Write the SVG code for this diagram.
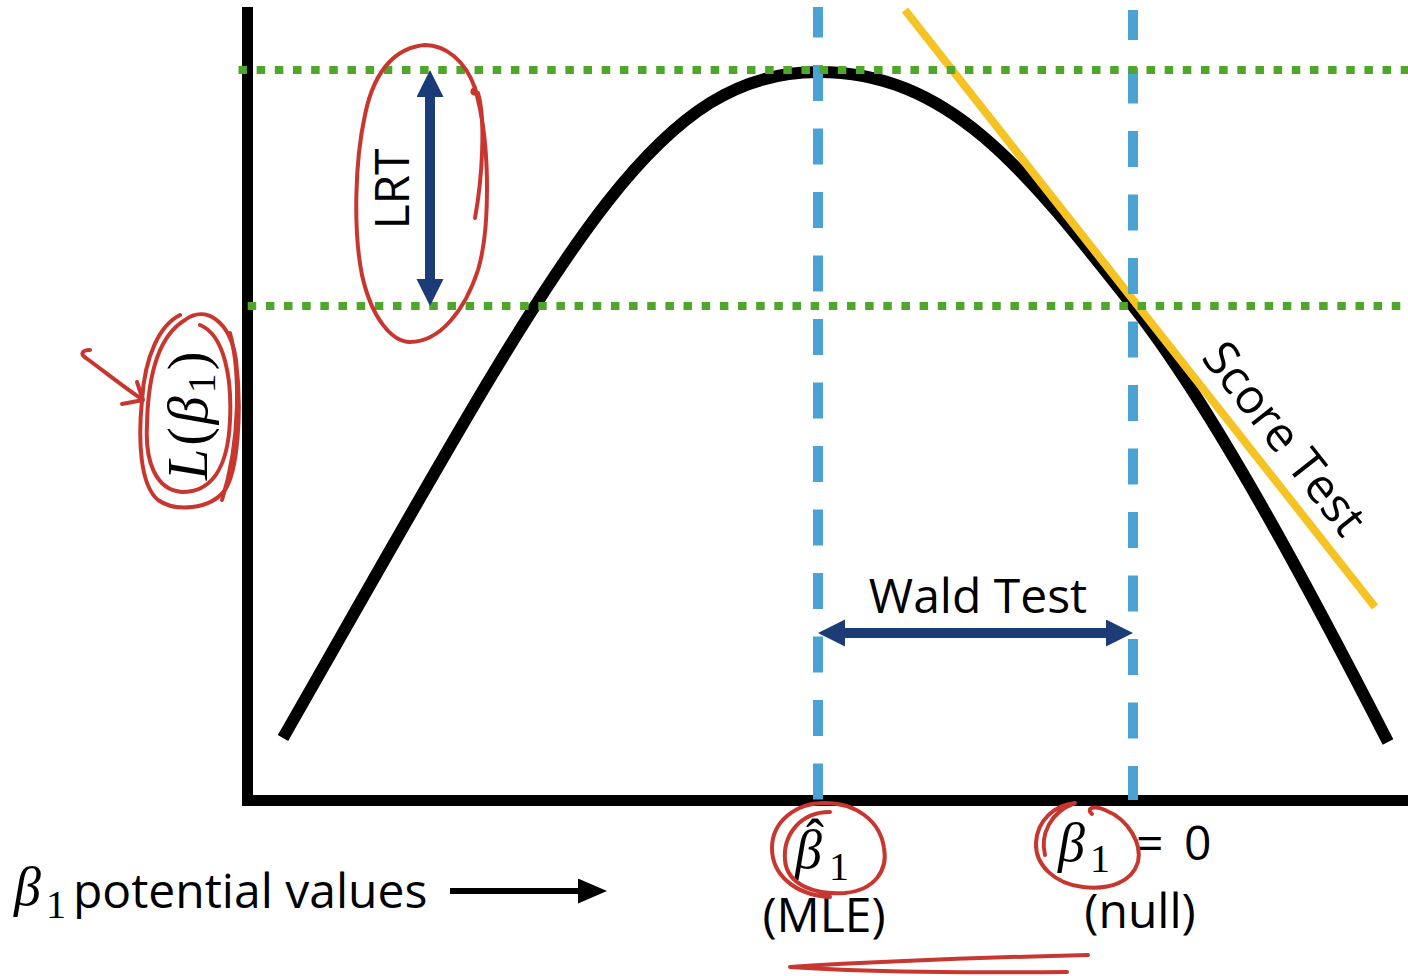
<svg xmlns="http://www.w3.org/2000/svg" width="1408" height="976" viewBox="0 0 1408 976">
<defs>
<style>
.axis{stroke:#000;stroke-width:11;fill:none}
.curve{stroke:#000;stroke-width:12;fill:none;stroke-linecap:butt}
.score{stroke:#F5C424;stroke-width:8;fill:none}
.vdash{stroke:#4AA3D3;stroke-width:10;fill:none;stroke-dasharray:36 27.5}
.gdot{stroke:#4EA72A;stroke-width:8;fill:none;stroke-dasharray:8.5 9.66}
.navy{stroke:#1C3C78;stroke-width:10;fill:none}
.blk{stroke:#000;stroke-width:6;fill:none}
.ink{stroke:#C8372F;stroke-width:4;fill:none;stroke-linecap:round;stroke-linejoin:round}
.lbl{font-family:"Open Sans","Liberation Sans",sans-serif;font-size:48px;fill:#000}
.math{font-family:"Liberation Serif","DejaVu Serif",serif;fill:#000}
</style>
<marker id="navyHead" markerUnits="userSpaceOnUse" markerWidth="28" markerHeight="28" refX="0" refY="13.5" orient="auto-start-reverse">
<path d="M0,0 L27,13.5 L0,27 Z" fill="#1C3C78"/>
</marker>
<marker id="blkHead" markerUnits="userSpaceOnUse" markerWidth="30" markerHeight="26" refX="0" refY="12.5" orient="auto">
<path d="M0,0 L29,12.5 L0,25 Z" fill="#000"/>
</marker>
</defs>

<g id="axes">
<line class="axis" x1="247.5" y1="7" x2="247.5" y2="806"/>
<line class="axis" x1="242" y1="800.5" x2="1408" y2="800.5"/>
</g>

<g id="likelihood-curve">
<path class="curve" d="M283,738 C560,253 650,72 818,72 C948,72 1023,166 1133,306 C1213,408 1308,586 1388,742"/>
</g>

<g id="score-line">
<line class="score" x1="905" y1="10" x2="1375" y2="607"/>
</g>

<g id="mle-line">
<line class="vdash" x1="818" y1="7" x2="818" y2="800" stroke-dashoffset="5.5"/>
</g>
<g id="null-line">
<line class="vdash" x1="1133" y1="10" x2="1133" y2="800" stroke-dashoffset="6"/>
</g>

<g id="max-level">
<line class="gdot" x1="238.5" y1="70" x2="1408" y2="70"/>
</g>
<g id="null-level">
<line class="gdot" x1="247.7" y1="306" x2="1408" y2="306"/>
</g>

<g id="connectors">
<line class="navy" x1="430" y1="97" x2="430" y2="279" marker-start="url(#navyHead)" marker-end="url(#navyHead)"/>
<line class="navy" x1="845" y1="633" x2="1106" y2="633" marker-start="url(#navyHead)" marker-end="url(#navyHead)"/>
<line class="blk" x1="450" y1="891" x2="578" y2="891" marker-end="url(#blkHead)"/>
</g>

<g id="lrt-label">
<text class="lbl" transform="translate(409,189) rotate(-90)" text-anchor="middle" x="0" y="0">LRT</text>
</g>
<g id="wald-label">
<text class="lbl" x="978" y="613" text-anchor="middle">Wald Test</text>
</g>
<g id="score-label">
<text class="lbl" transform="translate(1285,438) rotate(51.8)" text-anchor="middle" x="0" y="17">Score Test</text>
</g>

<g id="y-label">
<text class="math" transform="translate(207,480) rotate(-90)" font-size="56" letter-spacing="3"><tspan font-style="italic">L</tspan>(<tspan font-style="italic">β</tspan><tspan font-size="40" dy="8">1</tspan><tspan dy="-8">)</tspan></text>
</g>

<g id="x-label">
<text class="math" font-size="54"><tspan x="14" y="905" font-style="italic">β</tspan><tspan x="46" y="918" font-size="40">1</tspan></text>
<text class="lbl" x="73" y="908">potential values</text>
</g>

<g id="mle-label">
<text class="math" font-size="54"><tspan x="795" y="868" font-style="italic">β</tspan><tspan x="829" y="880" font-size="40">1</tspan><tspan x="806" y="857">ˆ</tspan></text>
<text class="lbl" x="824" y="932" text-anchor="middle">(MLE)</text>
</g>

<g id="null-label">
<text class="math" font-size="54"><tspan x="1058" y="861" font-style="italic">β</tspan><tspan x="1090" y="872" font-size="40">1</tspan></text>
<text class="lbl" font-size="50"><tspan x="1136" y="860">=</tspan><tspan x="1184" y="860">0</tspan></text>
<text class="lbl" x="1140" y="928" text-anchor="middle">(null)</text>
</g>

<g id="annotations">
<path class="ink" d="M475,88 C465,60 445,45 425,45 C400,47 375,65 365,115 C355,160 353,230 362,275 C372,320 393,342 410,342 C440,342 465,310 478,270 C490,230 490,150 478,100 C477,95 476,91 475,88"/>
<path class="ink" d="M475,88 C470,92 473,95 478,93 C486,120 482,180 475,218"/>
<path class="ink" d="M200,325 C225,335 232,380 230,420 C228,470 210,492 182,492 C155,490 145,460 147,425 C148,370 160,335 185,320 C205,305 230,320 236,360 C242,410 238,470 225,490 C210,510 175,512 158,500 C140,485 138,440 142,400 C145,355 160,325 180,315"/>
<path class="ink" d="M230,333 C240,370 241,440 222,500"/>
<path class="ink" d="M90,350 C82,350 80,354 86,358 C105,372 125,388 143,400 M122,404 L143,400 L137,382"/>
<path class="ink" d="M830,812 C800,812 783,835 785,860 C787,885 815,895 845,893 C875,890 888,870 884,848 C880,820 855,803 825,803 C795,803 772,822 772,848 C772,875 795,895 830,897"/>
<path class="ink" d="M1092,814 C1085,808 1095,805 1105,810 C1130,820 1142,845 1138,862 C1132,882 1110,890 1083,887 C1055,884 1035,865 1036,843 C1037,820 1055,805 1075,803 C1050,812 1040,835 1045,855"/>
<path class="ink" d="M1088,955 C1000,957 870,962 790,967 C860,972 980,973 1067,972"/>
</g>
</svg>
